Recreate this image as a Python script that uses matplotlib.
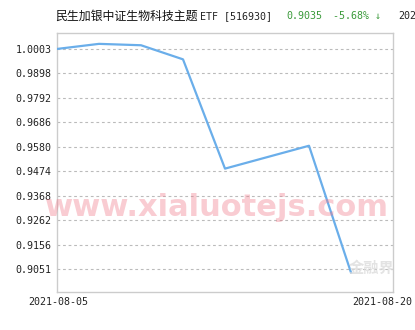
import matplotlib
matplotlib.use("Agg")
import matplotlib.pyplot as plt

plt.rcParams['font.family'] = ['Noto Sans CJK SC', 'DejaVu Sans']

# data
x_idx = [0, 1, 2, 3, 4, 6, 7]
values = [1.0003, 1.0025, 1.0019, 0.9958, 0.9485, 0.9584, 0.9035]
y_ticks = [1.0003, 0.9898, 0.9792, 0.9686, 0.9580, 0.9474, 0.9368, 0.9262, 0.9156, 0.9051]
y_tick_labels = ["1.0003", "0.9898", "0.9792", "0.9686", "0.9580", "0.9474", "0.9368", "0.9262", "0.9156", "0.9051"]
date_start = "2021-08-05"
date_end = "2021-08-20"
title_name = "民生加银中证生物科技主题"
title_code = "ETF [516930]"
last_price = "0.9035"
change = "-5.68% ↓"

fig = plt.figure(figsize=(4.15, 3.3), dpi=100)
ax = fig.add_axes([57/415, 1-292/330, (393-57)/415, (292-33)/330])

ax.plot(x_idx, values, color='#6aaeea', lw=1.6, zorder=3)
ax.set_xlim(0, 8)
ax.set_ylim(0.8951, 1.0072)
ax.set_yticks(y_ticks)
ax.set_yticklabels(y_tick_labels, family='DejaVu Sans Mono', fontsize=7.2, color='#222222')
ax.set_xticks([])
ax.tick_params(axis='y', length=0, pad=4)
ax.grid(axis='y', color='#bbbbbb', ls=(0, (2.5, 2.5)), lw=0.8)
for s in ax.spines.values():
    s.set_color('#cccccc')
    s.set_linewidth(1.0)

# date labels
fig.text(58/415, 1-302/330, date_start, family='DejaVu Sans Mono', fontsize=7.2,
         ha='center', va='center', color='#222222')
fig.text(382/415, 1-302/330, date_end, family='DejaVu Sans Mono', fontsize=7.2,
         ha='center', va='center', color='#222222')

# title
fig.text(55/415, 1-16/330, title_name, fontsize=8.6, ha='left', va='center', color='#111111')
fig.text(200/415, 1-16/330, title_code, family='DejaVu Sans Mono', fontsize=7.2,
         ha='left', va='center', color='#222222')
fig.text(286/415, 1-16/330, last_price, family='DejaVu Sans Mono', fontsize=7.2,
         ha='left', va='center', color='#3a9a3a')
fig.text(333/415, 1-16/330, change, family='DejaVu Sans Mono', fontsize=7.2,
         ha='left', va='center', color='#3a9a3a')
fig.text(398/415, 1-16/330, "2021-08-20", family='DejaVu Sans Mono', fontsize=7.2,
         ha='left', va='center', color='#222222')

# watermark
fig.text(45/415, 1-208/330, "www.xialuotejs.com", fontsize=22, fontweight='bold',
         ha='left', va='center', color='#f07a8a', alpha=0.38, family='DejaVu Sans')
fig.text(372/415, 1-268/330, "金融界", fontsize=11, fontweight='bold',
         ha='center', va='center', color='#dddddd', alpha=0.8)

fig.savefig("out.png", dpi=100)
